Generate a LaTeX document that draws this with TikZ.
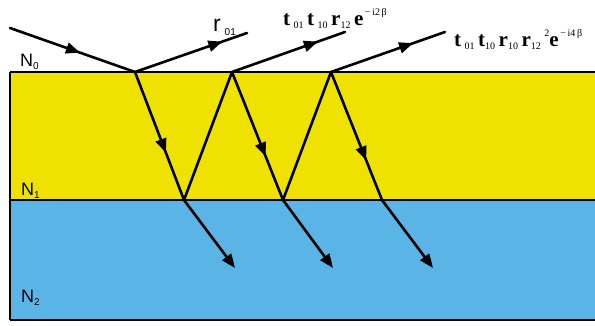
\documentclass[tikz,border=0pt]{standalone}
\usepackage{fontspec}
\setmainfont{Liberation Sans}
\newfontfamily\serifface{Liberation Serif}
\usetikzlibrary{arrows.meta,decorations.markings}

\newcommand{\lo}[1]{\raisebox{-0.35ex}{\mdseries\fontsize{10}{10}\selectfont #1}}
\newcommand{\hi}[1]{\raisebox{0.95ex}{\mdseries\fontsize{10}{10}\selectfont #1}}

\definecolor{filmyellow}{RGB}{240,226,0}
\definecolor{substblue}{RGB}{90,180,230}

\tikzset{
    ray/.style={line width=2.6pt, line cap=round},
    tip/.style={-{Triangle[length=14pt,width=11pt]}},
    midarrow/.style={ray, postaction={decorate},
        decoration={markings, mark=at position #1 with {\arrow{Triangle[length=14pt,width=11pt]}}}},
    medium/.style={font=\fontsize{18}{18}\selectfont, inner sep=0pt, anchor=base west},
    coef/.style={font=\serifface\bfseries\fontsize{21}{21}\selectfont, inner sep=0pt, anchor=base west}
}

\begin{document}
\begin{tikzpicture}[x=1pt, y=-1pt]
    \useasboundingbox[fill=white] (0, 0) rectangle (595, 325);

    % Layers
    \fill[filmyellow] (10, 72) rectangle (595, 200);
    \fill[substblue] (10, 200) rectangle (595, 320);
    \draw[line width=1.5pt] (10, 72) -- (595, 72);
    \draw[line width=1.5pt] (10, 200) -- (595, 200);
    \draw[line width=1.5pt] (10, 320) -- (595, 320);
    \draw[line width=1.5pt] (10, 72) -- (10, 320);

    % Indices
    \node[medium] (n0) at (20, 66) {N\lo{0}};
    \node[medium] (n1) at (21, 195) {N\lo{1}};
    \node[medium] (n2) at (21, 302) {N\lo{2}};

    % Points on the interfaces
    \coordinate (src) at (10, 28);
    \coordinate (a1) at (135, 72);
    \coordinate (a2) at (232, 72);
    \coordinate (a3) at (331, 72);
    \coordinate (b1) at (184, 200);
    \coordinate (b2) at (283, 200);
    \coordinate (b3) at (382, 200);
    \coordinate (r1) at (247, 33);
    \coordinate (r2) at (345, 32);
    \coordinate (r3) at (445, 32);
    \coordinate (t1) at (235, 268);
    \coordinate (t2) at (333, 268);
    \coordinate (t3) at (433, 268);

    % Incident and reflected rays
    \draw[midarrow=0.56] (src) -- (a1);
    \draw[midarrow=0.78] (a1) -- (r1);
    \draw[midarrow=0.76] (a2) -- (r2);
    \draw[midarrow=0.72] (a3) -- (r3);

    % Rays inside the film
    \draw[midarrow=0.63] (a1) -- (b1);
    \draw[ray] (b1) -- (a2);
    \draw[midarrow=0.66] (a2) -- (b2);
    \draw[ray] (b2) -- (a3);
    \draw[midarrow=0.69] (a3) -- (b3);

    % Transmitted rays
    \draw[ray, tip] (b1) -- (t1);
    \draw[ray, tip] (b2) -- (t2);
    \draw[ray, tip] (b3) -- (t3);

    % Amplitudes
    \node[anchor=base west, inner sep=0pt, font=\fontsize{23}{23}\selectfont] (lr1) at (213, 31) {r\,\lo{01}};
    \node[coef] (lr2) at (283, 25) {t\,\lo{01}\,t\,\lo{10}\,r\lo{12}\,e\hi{\,−\,i2\,β}};
    \node[coef] (lr3) at (454, 46) {t\,\lo{01}\,t\lo{10}\,r\lo{10}\,r\lo{12}\,\hi{2}e\hi{\,−\,i4\,β}};
\end{tikzpicture}
\end{document}
